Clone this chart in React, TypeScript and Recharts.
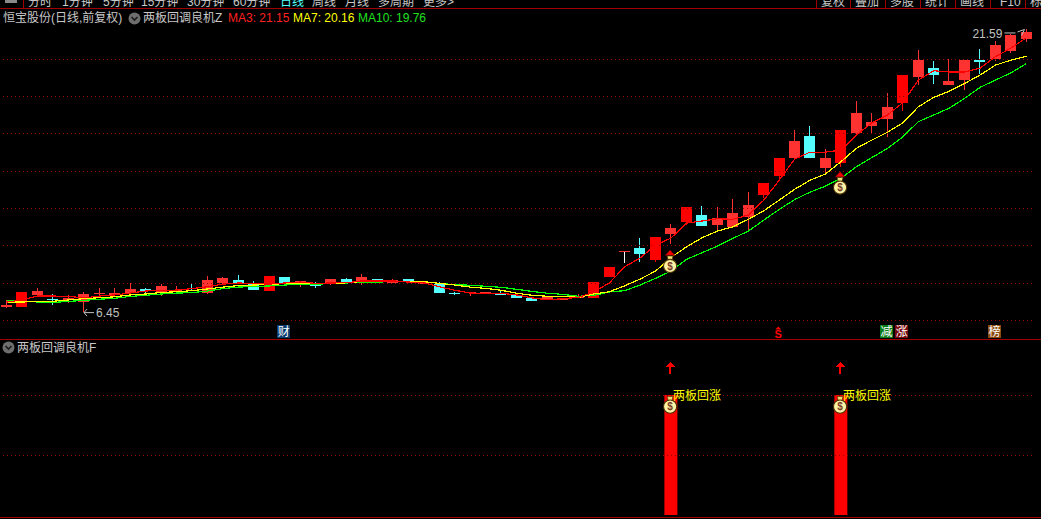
import React from "react";
import { ComposedChart, Bar, Line, XAxis, YAxis, ReferenceLine } from "recharts";

// ---- daily prices ----
const opens = [6.72,6.72,7.37,7.15,7.08,6.99,7.42,7.37,7.47,7.69,7.53,7.60,7.63,7.47,8.01,8.17,7.94,7.58,8.33,7.96,7.99,7.99,8.22,7.99,8.22,8.02,8.22,7.96,7.95,7.47,7.46,7.46,7.45,7.37,7.21,7.14,7.11,7.22,7.21,8.35,9.72,9.88,9.24,10.63,11.28,11.65,11.11,11.01,11.54,12.71,13.74,14.70,15.88,14.17,14.42,16.04,16.42,16.79,17.67,19.04,19.52,18.61,18.88,19.95,20.01,20.43,21.08];
const closes = [6.83,7.53,7.58,7.08,7.22,7.42,7.47,7.45,7.69,7.58,7.85,7.63,7.61,8.17,8.28,7.95,7.63,8.38,8.01,8.09,7.86,8.22,8.01,8.33,8.10,8.17,8.06,8.08,7.47,7.42,7.51,7.53,7.37,7.22,7.06,7.26,7.21,7.31,8.06,8.87,9.72,9.56,10.47,10.95,12.08,11.06,11.49,11.76,12.19,13.36,14.70,15.61,14.70,14.70,16.20,17.11,16.63,17.44,19.15,19.95,19.15,18.83,19.95,19.85,20.76,21.29,21.44];
const highs = [7.10,7.53,7.74,7.42,7.37,7.53,7.74,7.74,8.01,7.74,7.95,7.85,8.01,8.38,8.33,8.44,8.12,8.38,8.33,8.12,8.06,8.22,8.28,8.49,8.22,8.22,8.22,8.12,8.06,7.53,7.51,7.53,7.63,7.45,7.24,7.26,7.21,7.42,8.06,8.87,9.72,10.42,10.47,11.17,12.08,12.13,12.08,12.51,12.88,13.36,14.70,16.20,16.42,15.19,16.20,17.76,17.11,18.19,19.15,20.49,19.90,20.01,19.95,20.54,20.97,21.34,21.59];
const lows = [6.69,6.72,7.31,6.83,6.94,6.45,7.31,7.37,7.46,7.42,7.30,7.58,7.58,7.42,7.95,7.95,7.63,7.58,7.90,7.81,7.74,7.90,8.01,7.90,8.06,8.01,7.99,7.96,7.47,7.37,7.33,7.46,7.37,7.22,7.06,7.14,7.11,7.22,7.21,8.31,9.06,9.15,9.13,10.10,11.13,11.06,10.85,11.01,10.79,12.56,13.47,14.60,14.70,13.85,14.24,15.88,15.99,15.83,17.22,18.61,18.67,18.61,18.35,19.20,19.90,20.33,20.92];
const ma3 = [6.99,7.10,7.31,7.31,7.29,7.21,7.31,7.37,7.47,7.58,7.61,7.63,7.71,7.81,7.95,8.01,7.98,7.95,8.01,8.06,7.99,8.01,8.02,8.12,8.12,8.12,8.06,8.01,7.81,7.62,7.47,7.46,7.46,7.37,7.21,7.11,7.17,7.24,7.53,8.01,8.88,9.35,10.04,10.42,11.22,11.33,11.45,11.42,11.65,12.45,13.52,14.65,15.02,15.02,15.13,15.94,16.59,17.01,17.67,18.88,19.38,19.31,19.31,19.52,20.13,20.60,21.15];
const ma7 = [6.99,6.99,7.02,7.03,7.10,7.17,7.22,7.27,7.37,7.42,7.50,7.54,7.60,7.69,7.79,7.87,7.90,7.93,7.98,8.01,7.99,7.97,8.02,8.09,8.08,8.09,8.10,8.08,7.99,7.90,7.79,7.72,7.62,7.46,7.35,7.30,7.30,7.24,7.42,7.54,7.86,8.22,8.65,9.38,9.95,10.43,10.79,11.02,11.42,11.88,12.45,13.03,13.52,13.85,14.51,15.23,15.67,16.08,16.59,17.45,17.95,18.28,18.70,19.15,19.68,19.95,20.16];
const ma10 = [7.06,7.04,6.99,6.97,7.02,7.08,7.14,7.19,7.29,7.35,7.42,7.47,7.49,7.58,7.71,7.79,7.82,7.85,7.90,7.94,7.95,7.97,8.01,8.05,8.06,8.08,8.10,8.08,7.99,7.92,7.89,7.83,7.78,7.67,7.56,7.46,7.40,7.30,7.34,7.53,7.60,7.90,8.26,8.65,9.28,9.63,9.99,10.40,10.79,11.38,11.95,12.48,12.88,13.20,13.62,14.24,14.73,15.22,15.84,16.65,17.01,17.37,17.90,18.49,18.88,19.27,19.76];

// ---- categorical facts about particular days ----
const limitUpDays = [1,17,38,39,42,44,49,50,54,58];
const whiteDojiDays = [40];
const lowDay = 5;
const highDay = 66;
const signalDays = [43,54];
const bagPrices = [9.19,13.39];
const signalHeight = 2;
const signalBagValue = 1.89;
const signalArrowValue = 2.45;
const signalText = "两板回涨";
const eventDays = [18,50,57,58,64];
const eventLabels = ["财","S","减","涨","榜"];
const eventTone = ["blue","dollar","green","maroon","brown"];
const eventPrice = 5.41;

// ---- axis values and text ----
const priceDomain = [5,22];
const priceGrid = [6,8,10,12,14,16,18,20];
const signalDomain = [0,2.9167];
const signalGrid = [1,2];
const leftTabs = ["分时","1分钟","5分钟","15分钟","30分钟","60分钟","日线","周线","月线","多周期","更多>"];
const leftTabX = [28,62,103,141,187,233,280,312,345,378,423];
const rightTabs = ["复权","叠加","多股","统计","画线","F10","标"];
const rightTabX = [821,855,890,925,960,1000,1030];
const rightSeparators = [816,850,885,920,955,990,1025];

const RED = "#ff3232";
const PURE = "#ff0000";
const CYAN = "#54ffff";
const LINE = "#a00000";
const GRID = "#990000";
const FONT = '"Liberation Sans","Noto Sans CJK SC",sans-serif';
const toneColor: Record<string,string> = { blue:"#0b3b6e", green:"#0b7a18", maroon:"#760a10", brown:"#8a4a10" };

const table = opens.map((o, i) => {
  const sig = signalDays.indexOf(i);
  const ev = eventDays.indexOf(i);
  return {
    day: i, open: o, close: closes[i], high: highs[i], low: lows[i],
    range: [lows[i], highs[i]],
    ma3: ma3[i], ma7: ma7[i], ma10: ma10[i],
    bag: sig >= 0 ? bagPrices[sig] : null,
    lowMark: i === lowDay ? lows[i] : null,
    highMark: i === highDay ? highs[i] : null,
    event: ev >= 0 ? eventPrice : null,
    eventLabel: ev >= 0 ? eventLabels[ev] : "",
    eventTone: ev >= 0 ? eventTone[ev] : "",
    signal: sig >= 0 ? signalHeight : null,
    signalBag: sig >= 0 ? signalBagValue : null,
    signalArrow: sig >= 0 ? signalArrowValue : null,
  };
});

function Candle(props: any) {
  const { x, y, width, height, payload } = props;
  const { open, close, high, low, day } = payload;
  const span = high - low || 1;
  const yOf = (v: number) => y + (height * (high - v)) / span;
  const top = yOf(Math.max(open, close));
  const bot = yOf(Math.min(open, close));
  const cx = Math.round(x + width / 2 - 0.5);
  const up = close >= open;
  const solid = limitUpDays.includes(day);
  const white = whiteDojiDays.includes(day);
  const fill = !up ? CYAN : solid ? PURE : RED;
  const wick = white ? "#ffffff" : fill;
  return (
    <g shapeRendering="crispEdges">
      <rect x={cx} y={y} width={1} height={Math.max(height, 1)} fill={wick} />
      <rect x={cx - 5} y={top} width={11} height={Math.max(bot - top, 1)} fill={white ? RED : fill} />
    </g>
  );
}

function Bag({ cx, cy, hat }: any) {
  return (
    <g>
      {hat && <path d={`M${cx - 5} ${cy - 5.5}L${cx} ${cy - 11}L${cx + 5} ${cy - 5.5}Z`} fill="#f00000" stroke="#5a0000" strokeWidth={0.7} />}
      <path d={`M${cx - 3} ${cy - 5}H${cx + 3}L${cx + 1.8} ${cy - 1}H${cx - 1.8}Z`} fill="#f6e27a" stroke="#4a3300" strokeWidth={0.7} />
      <ellipse cx={cx} cy={cy + 5} rx={6.6} ry={6.6} fill="#fdf3a4" stroke="#4a3000" strokeWidth={1.1} />
      <text x={cx} y={cy + 8.6} fontSize={10} fontWeight="bold" fill="#7a3a28" textAnchor="middle" fontFamily={FONT}>$</text>
    </g>
  );
}

const none = (k: any) => <g key={k} />;

function App() {
  const renderBag = (p: any) => (p.cy == null ? none(p.index) : <g key={p.index}><Bag cx={p.cx - 1} cy={p.cy} hat /></g>);
  const renderSignalBag = (p: any) =>
    p.cy == null ? none(p.index) : (
      <g key={p.index}>
        <Bag cx={p.cx - 1} cy={p.cy} hat={false} />
        <text x={p.cx + 2} y={p.cy - 2} fontSize={12} fill="#ffff00" fontFamily={FONT}>{signalText}</text>
      </g>
    );
  const renderArrow = (p: any) => {
    if (p.cy == null) return none(p.index);
    const cx = Math.round(p.cx - 1);
    return (
      <g key={p.index} shapeRendering="crispEdges">
        <path d={`M${cx} ${p.cy - 6}L${cx + 5} ${p.cy - 1}H${cx - 5}Z`} fill={PURE} />
        <rect x={cx - 1} y={p.cy - 1} width={2} height={7} fill={PURE} />
      </g>
    );
  };
  const renderLow = (p: any) =>
    p.cy == null ? none(p.index) : (
      <g key={p.index}>
        <path d={`M${p.cx + 10} ${p.cy + 0.5}H${p.cx}M${p.cx + 3} ${p.cy - 3}L${p.cx} ${p.cy + 0.5}L${p.cx + 3} ${p.cy + 4}`} stroke="#c0c0c0" fill="none" />
        <text x={p.cx + 12} y={p.cy + 5} fontSize={12} fill="#c0c0c0" fontFamily={FONT}>{p.payload.low.toFixed(2)}</text>
      </g>
    );
  const renderHigh = (p: any) =>
    p.cy == null ? none(p.index) : (
      <g key={p.index}>
        <path d={`M${p.cx - 22} ${p.cy + 3.5}H${p.cx - 11}M${p.cx - 9} ${p.cy + 2.5}L${p.cx - 2} ${p.cy}L${p.cx - 5} ${p.cy + 6}`} stroke="#c0c0c0" fill="none" />
        <text x={p.cx - 24} y={p.cy + 9} fontSize={12} fill="#c0c0c0" textAnchor="end" fontFamily={FONT}>{p.payload.high.toFixed(2)}</text>
      </g>
    );
  const renderEvent = (p: any) => {
    if (p.cy == null) return none(p.index);
    const tone = p.payload.eventTone;
    const cx = p.cx - 1;
    if (tone === "dollar") {
      return (
        <g key={p.index}>
          <path d={`M${cx} ${p.cy - 5}L${cx + 3} ${p.cy - 2}H${cx - 3}Z`} fill={PURE} />
          <text x={cx} y={p.cy + 6} fontSize={11} fontWeight="bold" fill={PURE} textAnchor="middle" fontFamily={FONT}>{p.payload.eventLabel}</text>
        </g>
      );
    }
    return (
      <g key={p.index}>
        <rect x={cx - 6.5} y={p.cy - 6.5} width={13} height={13} fill={toneColor[tone]} shapeRendering="crispEdges" />
        <text x={cx} y={p.cy + 4.5} fontSize={12} fill="#ffffff" textAnchor="middle" fontFamily={FONT}>{p.payload.eventLabel}</text>
      </g>
    );
  };

  const abs = (left: number, top: number, color: string, size = 12): React.CSSProperties => ({
    position: "absolute", left, top, color, fontSize: size, lineHeight: "14px", whiteSpace: "nowrap", fontFamily: FONT,
  });
  const circle = (left: number, top: number) => (
    <svg style={{ position: "absolute", left, top }} width={13} height={13}>
      <circle cx={6.5} cy={6.5} r={6} fill="#6e6e6e" />
      <path d="M3.5 5L6.5 8L9.5 5" stroke="#1c1c1c" strokeWidth={1.6} fill="none" />
    </svg>
  );

  return (
    <div style={{ position: "fixed", left: 0, top: 0, width: 1041, height: 519, background: "#000", overflow: "hidden" }}>
      {/* toolbar, cut off at the top of the picture as in the reference */}
      <div style={{ position: "absolute", left: 0, top: 0, width: 1041, height: 8, overflow: "hidden" }}>
        {leftTabs.map((t, i) => (
          <span key={t} style={abs(leftTabX[i], -5, t === "日线" ? "#54ffff" : "#c8c8c8")}>{t}</span>
        ))}
        {rightTabs.map((t, i) => (
          <span key={t} style={abs(rightTabX[i], -5, "#c8c8c8")}>{t}</span>
        ))}
        <div style={{ position: "absolute", left: 5, top: 0, width: 12, height: 3, background: "#8a8a8a" }} />
        <div style={{ position: "absolute", left: 23, top: 0, width: 1, height: 8, background: LINE }} />
        {rightSeparators.map((x) => (
          <div key={x} style={{ position: "absolute", left: x, top: 0, width: 1, height: 8, background: LINE }} />
        ))}
      </div>
      <div style={{ position: "absolute", left: 0, top: 8, width: 1041, height: 1, background: LINE }} />

      {/* price panel */}
      <div style={{ position: "absolute", left: -1, top: 0 }}>
        <ComposedChart width={1042} height={340} data={table} margin={{ top: 21.8, right: 6.8, bottom: 0.83, left: 0 }}>
          <XAxis dataKey="day" type="category" hide />
          <YAxis type="number" domain={priceDomain} hide width={0} />
          {priceGrid.map((v) => (
            <ReferenceLine key={v} y={v} stroke={GRID} strokeDasharray="1 3" shapeRendering="crispEdges" />
          ))}
          <Bar dataKey="range" barSize={11} shape={Candle} isAnimationActive={false} />
          <Line dataKey="ma10" stroke="#00ff00" strokeWidth={1.2} shapeRendering="crispEdges" dot={false} activeDot={false} isAnimationActive={false} />
          <Line dataKey="ma7" stroke="#ffff00" strokeWidth={1.2} shapeRendering="crispEdges" dot={false} activeDot={false} isAnimationActive={false} />
          <Line dataKey="ma3" stroke="#ff0000" strokeWidth={1.2} shapeRendering="crispEdges" dot={false} activeDot={false} isAnimationActive={false} />
          <Line dataKey="bag" stroke="none" dot={renderBag} activeDot={false} isAnimationActive={false} />
          <Line dataKey="lowMark" stroke="none" dot={renderLow} activeDot={false} isAnimationActive={false} />
          <Line dataKey="highMark" stroke="none" dot={renderHigh} activeDot={false} isAnimationActive={false} />
          <Line dataKey="event" stroke="none" dot={renderEvent} activeDot={false} isAnimationActive={false} />
        </ComposedChart>
      </div>

      <div style={{ position: "absolute", left: 0, top: 339, width: 1041, height: 1, background: LINE }} />

      {/* signal panel */}
      <div style={{ position: "absolute", left: -1, top: 340 }}>
        <ComposedChart width={1042} height={175} data={table} margin={{ top: 0, right: 6.8, bottom: 0, left: 0 }}>
          <XAxis dataKey="day" type="category" hide />
          <YAxis type="number" domain={signalDomain} hide width={0} />
          {signalGrid.map((v) => (
            <ReferenceLine key={v} y={v} stroke={GRID} strokeDasharray="1 3" shapeRendering="crispEdges" />
          ))}
          <Bar dataKey="signal" barSize={13} fill={PURE} isAnimationActive={false} />
          <Line dataKey="signalBag" stroke="none" dot={renderSignalBag} activeDot={false} isAnimationActive={false} />
          <Line dataKey="signalArrow" stroke="none" dot={renderArrow} activeDot={false} isAnimationActive={false} />
        </ComposedChart>
      </div>
      <div style={{ position: "absolute", left: 0, top: 517, width: 1041, height: 1, background: LINE }} />

      {/* panel headings */}
      <span style={abs(3, 11, "#c8c8c8")}>恒宝股份(日线,前复权)</span>
      {circle(128, 12)}
      <span style={abs(143, 11, "#c8c8c8")}>两板回调良机Z</span>
      <span style={abs(228, 11, "#ff2020")}>MA3: 21.15</span>
      <span style={abs(293, 11, "#ffff00")}>MA7: 20.16</span>
      <span style={abs(358, 11, "#20e020")}>MA10: 19.76</span>
      {circle(2, 341)}
      <span style={abs(17, 341, "#c8c8c8")}>两板回调良机F</span>
    </div>
  );
}

export default App;
